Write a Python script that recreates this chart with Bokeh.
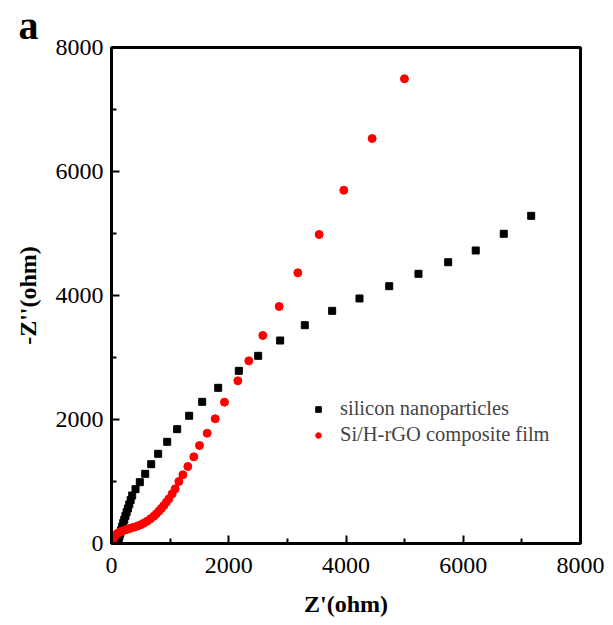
from bokeh.plotting import figure
from bokeh.models import Range1d, FixedTicker, Legend, LegendItem
from bokeh.embed import file_html
from bokeh.resources import INLINE

# silicon nanoparticles (black squares)
si_x = [105, 120, 135, 150, 165, 182, 200, 218, 238, 258, 280, 303, 327, 353, 410, 483, 575, 677, 796, 950,
        1120, 1325, 1547, 1820, 2172, 2502, 2877, 3297, 3764, 4230, 4737, 5236, 5743, 6213, 6691, 7159]
si_y = [15, 60, 110, 160, 215, 270, 330, 385, 445, 505, 565, 630, 700, 774, 876, 989, 1124, 1279, 1447, 1640,
        1844, 2060, 2285, 2511, 2785, 3027, 3274, 3521, 3753, 3952, 4150, 4350, 4537, 4726, 4995, 5285]

# Si/H-rGO composite film (red circles)
rgo_x = [5, 15, 30, 50, 75, 105, 140, 180, 225, 270, 320, 380, 440, 495, 550, 608, 665, 722, 765, 807, 850,
         893, 935, 979, 1035, 1086, 1149, 1217, 1302, 1404, 1501, 1632, 1769, 1927, 2155, 2342, 2581, 2860,
         3178, 3542, 3963, 4446, 4997]
rgo_y = [20, 50, 85, 115, 140, 165, 185, 200, 215, 230, 245, 262, 280, 302, 328, 360, 398, 440, 480, 521, 566,
         613, 665, 721, 802, 882, 1000, 1108, 1242, 1398, 1581, 1779, 2011, 2279, 2624, 2946, 3355, 3823,
         4366, 4984, 5698, 6532, 7495]

major_ticks = [0, 2000, 4000, 6000, 8000]
minor_ticks = [1000, 3000, 5000, 7000]

FONT = "Liberation Serif"

p = figure(width=605, height=618, frame_width=469, frame_height=496,
           x_range=Range1d(0, 8000), y_range=Range1d(0, 8000),
           output_backend="svg", toolbar_location=None,
           min_border_left=111, min_border_right=25, min_border_top=47, min_border_bottom=75)
p.grid.visible = False
p.outline_line_color = "black"
p.outline_line_width = 3
p.outline_line_alpha = 1.0
p.background_fill_color = "white"

p.title.text = "a"
p.title.text_font = FONT
p.title.text_font_size = "40px"
p.title.text_font_style = "bold"
p.title.text_color = "black"
p.title.align = "left"
p.title.offset = -93
p.title.standoff = 0

for ax in (p.xaxis[0], p.yaxis[0]):
    ax.ticker = FixedTicker(ticks=major_ticks, minor_ticks=minor_ticks)
    ax.axis_line_width = 3
    ax.axis_line_color = "black"
    ax.major_tick_line_width = 2
    ax.minor_tick_line_width = 2
    ax.major_tick_in = 8
    ax.major_tick_out = 0
    ax.minor_tick_in = 5
    ax.minor_tick_out = 0
    ax.major_label_text_font = FONT
    ax.major_label_text_font_size = "24px"
    ax.major_label_text_color = "black"
    ax.axis_label_text_font = FONT
    ax.axis_label_text_font_size = "24px"
    ax.axis_label_text_font_style = "bold"
    ax.axis_label_text_color = "black"

p.xaxis[0].axis_label = "Z'(ohm)"
p.yaxis[0].axis_label = "-Z''(ohm)"
p.xaxis[0].major_label_standoff = 14
p.xaxis[0].axis_label_standoff = 15
p.yaxis[0].major_label_standoff = 8
p.yaxis[0].axis_label_standoff = 12

r_si = p.scatter(si_x, si_y, marker="square", size=7, fill_color="black", line_color="black")
r_rgo = p.scatter(rgo_x, rgo_y, marker="circle", size=8, fill_color="red", line_color="red")

legend = Legend(items=[LegendItem(label="silicon nanoparticles", renderers=[r_si]),
                       LegendItem(label="Si/H-rGO composite film", renderers=[r_rgo])],
                location=(200, 97), padding=0, margin=0, spacing=3,
                glyph_width=14, glyph_height=20, label_height=20, label_standoff=15,
                label_text_font=FONT, label_text_font_size="20.5px",
                border_line_alpha=0, background_fill_alpha=0)
p.add_layout(legend, "center")

open("out.html", "w").write(file_html(p, INLINE))
